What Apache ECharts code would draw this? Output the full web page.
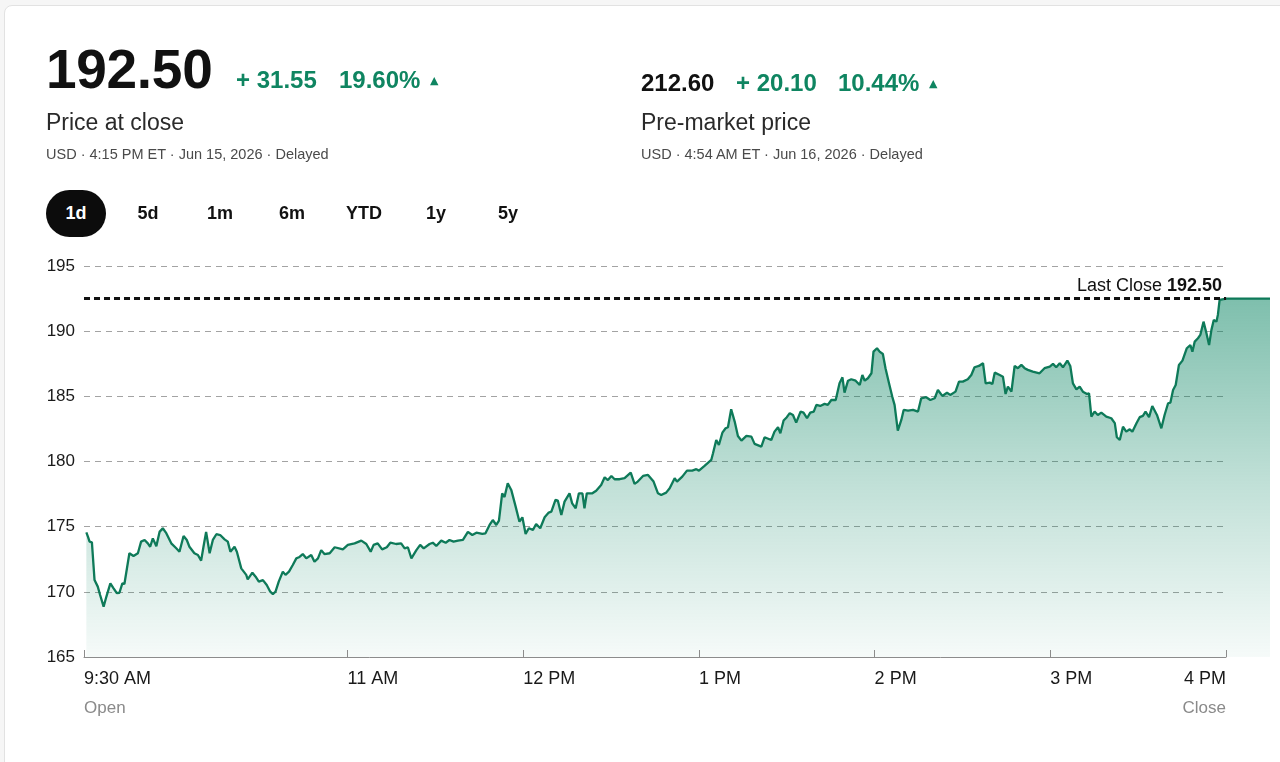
<!DOCTYPE html>
<html>
<head>
<meta charset="utf-8">
<title>1d price chart</title>
<script src="https://cdn.jsdelivr.net/npm/echarts@6.0.0/dist/echarts.min.js"></script>
<style>
    html, body { margin: 0; padding: 0; background: #f6f6f6; font-family: "Liberation Sans", Arial, sans-serif; }
    .card { position: absolute; left: 4px; top: 5px; width: 1290px; height: 770px; background: #fff; border: 1px solid #e2e2e2; border-radius: 8px; }
    #chart { position: absolute; left: 0; top: 0; width: 1280px; height: 762px; }
    .q { position: absolute; white-space: nowrap; line-height: 30px; }
    .big { left: 46px; top: 39px; font-size: 55px; line-height: 60px; font-weight: bold; color: #111; letter-spacing: -0.3px; }
    .green { color: #0f8561; font-weight: bold; font-size: 24px; }
    .tri { font-size: 11px; color: #0f8561; font-family: "DejaVu Sans", sans-serif; }
    .price2 { font-size: 24px; font-weight: bold; color: #111; }
    .sub { font-size: 23px; color: #2a2a2a; }
    .meta { font-size: 14.5px; color: #4a4a4a; }
    .range { position: absolute; top: 190px; width: 60px; height: 47px; line-height: 47px; text-align: center;
             font-size: 18px; font-weight: bold; color: #111; border-radius: 24px; }
    .range.on { background: #0c0c0c; color: #fff; }
</style>
</head>
<body>
<div class="card"></div>
<div id="chart"></div>

<!-- header: close price and pre-market -->
<div class="q big">192.50</div>
<div class="q green" style="left:236px;top:65px;">+ 31.55</div>
<div class="q green" style="left:339px;top:65px;">19.60%</div>
<div class="q tri" style="left:430px;top:66px;">▲</div>
<div class="q sub" style="left:46px;top:107px;">Price at close</div>
<div class="q meta" style="left:46px;top:139px;">USD · 4:15 PM ET · Jun 15, 2026 · Delayed</div>

<div class="q price2" style="left:641px;top:68px;">212.60</div>
<div class="q green" style="left:736px;top:68px;">+ 20.10</div>
<div class="q green" style="left:838px;top:68px;">10.44%</div>
<div class="q tri" style="left:929px;top:69px;">▲</div>
<div class="q sub" style="left:641px;top:107px;">Pre-market price</div>
<div class="q meta" style="left:641px;top:139px;">USD · 4:54 AM ET · Jun 16, 2026 · Delayed</div>

<!-- range buttons -->
<div class="range on" style="left:46px;">1d</div>
<div class="range" style="left:118px;">5d</div>
<div class="range" style="left:190px;">1m</div>
<div class="range" style="left:262px;">6m</div>
<div class="range" style="left:334px;">YTD</div>
<div class="range" style="left:406px;">1y</div>
<div class="range" style="left:478px;">5y</div>

<script>
    // minutes after 9:30 open
    var times = [
        0.8, 1.4, 1.9, 2.7, 3.6, 4.7, 5.5, 6.7, 7.6, 9.0, 10.1, 11.2, 12.1, 13.1, 13.8, 15.5, 16.9, 18.4, 19.5, 20.7,
        21.8, 22.6, 23.5, 24.7, 25.8, 26.9, 28.1, 29.8, 31.5, 32.6, 34.0, 35.1, 36.0, 37.7, 38.9, 40.0, 40.8, 41.7, 42.9, 44.0,
        45.2, 46.5, 48.0, 49.1, 50.0, 51.4, 52.2, 53.7, 55.4, 55.9, 57.5, 58.6, 59.7, 61.1, 62.4, 63.6, 64.5, 65.4, 66.5, 67.9,
        68.8, 70.0, 71.3, 72.5, 73.4, 74.7, 75.9, 77.6, 78.7, 79.9, 81.0, 82.1, 83.9,
        85.6, 88.4, 90.1, 92.4, 94.7, 96.4, 97.9, 98.9, 100.3, 101.8, 103.4, 104.6, 106.6, 108.3, 109.5, 110.6, 111.8, 113.5, 114.8, 116.0,
        118.0, 119.1, 120.3, 122.0, 123.5, 124.8, 126.2, 127.7, 129.4, 131.1, 132.6, 134.0, 136.0, 137.1, 138.5, 139.6, 140.8, 141.7, 142.8, 143.6,
        144.7, 145.9, 147.4, 148.7, 149.7, 150.8, 151.9, 153.3, 154.4, 155.8, 157.3, 158.7, 159.6, 161.0, 161.8, 163.0, 164.1, 165.8, 166.7, 167.9,
        169.0, 170.2, 170.9, 171.7, 173.6, 174.9, 176.6, 177.8, 178.9, 180.1, 181.2, 182.9, 184.6, 186.7, 188.0, 189.1, 190.9, 192.6, 194.5, 196.0,
        197.1, 198.8, 200.0, 201.7, 202.5, 204.3, 205.9, 207.7, 209.1, 210.0, 211.9, 214.2,
        214.8, 215.9, 216.8, 218.0, 219.1, 219.9, 221.0, 222.2, 223.3, 224.5, 225.0, 226.2, 227.9, 229.0, 231.3, 232.4, 234.7, 235.8, 237.0, 237.8,
        238.9, 240.0, 241.0, 242.1, 243.2, 244.7, 245.7, 246.9, 248.0, 249.2, 250.1, 251.4, 252.9, 254.0, 255.2, 256.7, 258.0, 259.0, 259.7, 260.9,
        262.0, 263.5, 264.9, 265.8, 266.6, 267.7, 268.9, 269.6, 270.8, 271.7, 272.8, 273.7, 274.9, 276.0, 276.8, 277.9, 279.1, 279.9, 281.4, 283.1,
        284.8, 285.9, 287.6, 289.0, 290.5, 291.6, 293.1, 294.7, 295.8, 297.6, 298.8, 300.1, 301.8, 303.0, 304.1, 305.6, 307.0, 307.9, 309.3, 310.2,
        311.0, 312.7, 313.8, 314.7, 315.5, 316.7, 317.8, 318.9, 320.1, 321.2, 322.3, 324.0, 326.3, 328.0, 329.8, 330.9, 332.0, 333.2, 334.3, 335.8,
        336.8, 337.7, 338.9, 340.0, 341.1, 342.5, 343.2, 344.0, 345.1, 346.2, 347.4, 349.1, 350.8, 352.0, 352.7, 353.7, 354.8, 355.9, 357.1, 358.0,
        359.4, 360.5, 361.6, 362.5, 363.7, 364.8, 366.4, 367.9, 369.0, 370.2, 371.0, 371.9, 372.8, 373.9, 375.1,
        376.6, 377.8, 378.5, 379.3, 380.4, 381.2, 382.3, 383.3, 384.2, 385.0, 385.8, 386.7, 387.2, 387.8, 388.4, 390.1, 405
    ];
    var prices = [
        174.57, 174.2, 173.85, 173.8, 170.9, 170.4, 169.76, 168.86, 169.6, 170.65, 170.27, 169.9, 169.93, 170.65, 170.6, 172.96, 172.75, 172.96, 173.85, 173.98,
        173.72, 173.46, 174.1, 173.5, 174.6, 174.88, 174.5, 173.72, 173.34, 173.08, 174.29, 173.98, 173.46, 172.96, 172.83, 172.39, 173.46, 174.6, 172.96, 173.98,
        174.42, 174.36, 174.03, 173.85, 173.08, 173.46, 173.08, 171.8, 171.3, 170.96, 171.47, 171.16, 170.78, 170.9, 170.52, 170.01, 169.83, 170.01, 170.78, 171.55,
        171.3, 171.55, 172.06, 172.57, 172.65, 172.9, 172.57, 172.83, 172.31, 172.57, 173.2, 172.9, 172.96,
        173.42, 173.26, 173.6, 173.72, 173.93, 173.67, 173.08, 173.6, 173.72, 173.26, 173.42, 173.77, 173.67, 173.72, 173.34, 173.42, 172.57, 173.2, 173.6, 173.34,
        173.67, 173.77, 173.52, 173.93, 173.77, 173.98, 173.85, 173.93, 173.98, 174.6, 174.36, 174.54, 174.44, 174.49, 175.13, 175.51, 175.13, 175.46, 177.56, 177.27,
        178.33, 177.82, 176.54, 175.38, 175.72, 174.44, 174.88, 174.75, 175.21, 174.88, 175.72, 176.08, 176.15, 177.05, 177.0, 175.9, 176.92, 177.56, 176.79, 176.41,
        177.56, 177.56, 176.41, 177.56, 177.56, 177.76, 178.2, 178.79, 178.58, 178.89, 178.64, 178.64, 178.72, 179.15, 178.28, 178.46, 178.89, 178.97, 178.46, 177.56,
        177.43, 177.61, 177.95, 178.72, 178.46, 178.84, 179.3, 179.3, 179.41, 179.3, 179.66, 180.12,
        180.63, 181.65, 181.27, 182.21, 182.55, 182.63, 184.01, 183.06, 181.96, 181.6, 181.52, 181.96, 181.91, 181.35, 181.14, 181.86, 181.65, 182.29, 182.63, 182.17,
        183.14, 183.4, 183.71, 183.57, 182.98, 183.83, 183.75, 183.32, 183.75, 183.83, 184.34, 184.26, 184.42, 184.34, 184.72, 184.72, 186.0, 186.46, 185.28, 186.2,
        186.31, 186.2, 185.87, 186.64, 186.2, 186.39, 186.77, 188.43, 188.69, 188.43, 188.25, 187.16, 186.0, 184.98, 184.34, 182.37, 183.19, 183.96, 183.9, 183.96,
        183.83, 184.85, 184.93, 184.72, 184.85, 185.49, 185.03, 185.28, 185.11, 185.36, 186.13, 186.13, 186.31, 186.64, 187.23, 187.33, 187.54, 186.0, 186.05, 185.95,
        186.82, 186.64, 186.51, 185.18, 185.74, 185.36, 187.33, 187.16, 187.41, 187.16, 187.03, 186.9, 186.77, 187.16, 187.28, 187.49, 187.23, 187.54, 187.23, 187.74,
        187.33, 186.0, 185.54, 185.74, 185.36, 185.18, 185.23, 183.44, 183.83, 183.57, 183.75, 183.44, 183.32, 182.94, 181.86, 181.65, 182.67, 182.29, 182.47, 182.29,
        182.94, 183.4, 183.5, 183.83, 183.4, 184.26, 183.57, 182.55, 183.57, 184.47, 184.52, 185.49, 185.87, 187.41, 187.74,
        188.69, 188.94, 188.43, 189.2, 189.46, 189.71, 190.73, 189.84, 188.94, 190.1, 190.86, 190.73, 191.25, 192.4, 192.53, 192.5, 192.5
    ];

    var xTickValues = [0, 90, 150, 210, 270, 330, 390];
    var xTickLabels = ['9:30 AM', '11 AM', '12 PM', '1 PM', '2 PM', '3 PM', '4 PM'];
    var xSubLabels = ['Open', '', '', '', '', '', 'Close'];
    var lastClose = 192.5;

    var points = times.map(function (t, i) { return [t, prices[i]]; });

    var chart = echarts.init(document.getElementById('chart'));
    chart.setOption({
        animation: false,
        textStyle: { fontFamily: '"Liberation Sans", Arial, sans-serif' },
        grid: [
            { left: 84, right: 54, top: 266, bottom: 105 },   // session 9:30 - 4 PM
            { left: 84, right: 10, top: 266, bottom: 105 }    // through 4:15 PM
        ],
        xAxis: [
            {
                gridIndex: 0, type: 'value', min: 0, max: 390, z: 3,
                splitLine: { show: false },
                axisLine: { lineStyle: { color: '#8c8c8c', width: 1 } },
                axisTick: { customValues: xTickValues, inside: true, length: 7, lineStyle: { color: '#8c8c8c' } },
                axisLabel: {
                    customValues: xTickValues,
                    align: 'left',
                    alignMaxLabel: 'right',
                    margin: 8,
                    formatter: function (v) {
                        var i = xTickValues.indexOf(v);
                        if (i < 0) return '';
                        var s = '{t|' + xTickLabels[i] + '}';
                        if (xSubLabels[i]) s += '\n{s|' + xSubLabels[i] + '}';
                        return s;
                    },
                    rich: {
                        t: { fontSize: 18, color: '#1a1a1a', lineHeight: 29 },
                        s: { fontSize: 17, color: '#8a8a8a', lineHeight: 29 }
                    }
                }
            },
            { gridIndex: 1, type: 'value', min: 0, max: 405, show: false }
        ],
        yAxis: [
            {
                gridIndex: 0, type: 'value', min: 165, max: 195, interval: 5,
                axisLine: { show: false },
                axisTick: { show: false },
                axisLabel: { fontSize: 17, color: '#1a1a1a', margin: 9 },
                splitLine: { lineStyle: { color: '#a3a3a3', width: 1, type: [6, 5] } }
            },
            { gridIndex: 1, type: 'value', min: 165, max: 195, show: false }
        ],
        series: [{
            type: 'line',
            xAxisIndex: 1,
            yAxisIndex: 1,
            data: points,
            showSymbol: false,
            silent: true,
            lineStyle: { color: '#0e7a59', width: 2.3 },
            areaStyle: {
                color: new echarts.graphic.LinearGradient(0, 0, 0, 1, [
                    { offset: 0, color: 'rgba(0, 128, 92, 0.72)' },
                    { offset: 0.5, color: 'rgba(0, 128, 92, 0.36)' },
                    { offset: 1, color: 'rgba(0, 128, 92, 0.05)' }
                ])
            },
            markLine: {
                silent: true,
                symbol: ['none', 'none'],
                lineStyle: { color: '#111', width: 3, type: [6, 4] },
                label: {
                    position: 'insideEndTop',
                    distance: 4,
                    formatter: '{a|Last Close }{b|' + lastClose.toFixed(2) + '}',
                    rich: {
                        a: { fontSize: 18, color: '#111' },
                        b: { fontSize: 18, color: '#111', fontWeight: 'bold' }
                    }
                },
                data: [[{ coord: [0, lastClose] }, { coord: [390, lastClose] }]]
            }
        }]
    });
</script>
</body>
</html>
